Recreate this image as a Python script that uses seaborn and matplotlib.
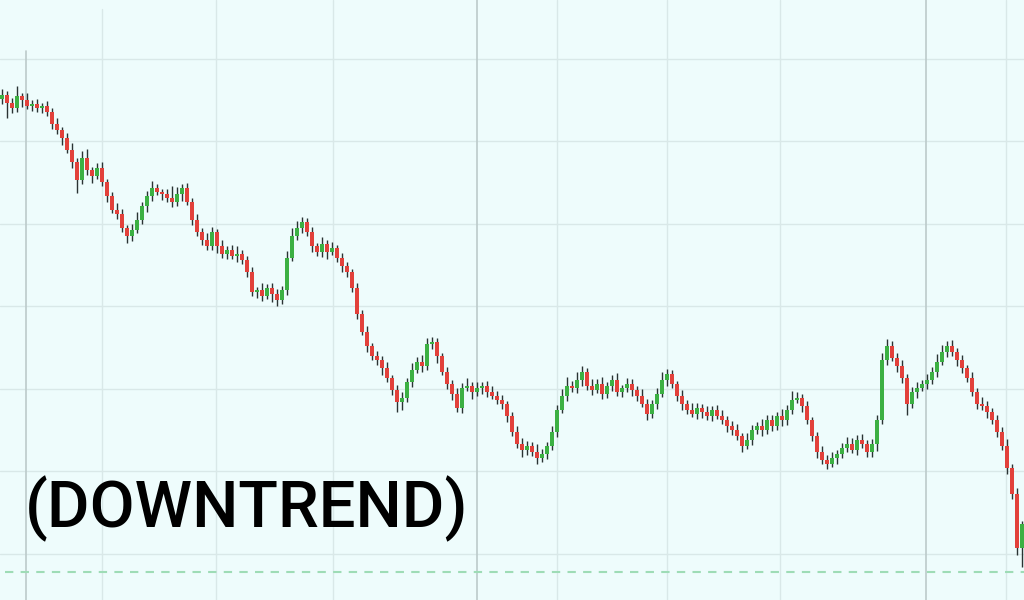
import matplotlib
matplotlib.use("Agg")
import numpy as np
import matplotlib.pyplot as plt
import seaborn as sns

# closing prices, one per session (open = previous close)
first_open = 155.2
closes = [
    155.6, 154.7, 154.1, 155.5, 155.0, 154.3, 154.5, 154.1, 154.3, 153.6,
    152.1, 151.4, 150.4, 149.0, 147.5, 145.3, 148.0, 146.5, 145.8, 146.8,
    145.1, 143.4, 141.7, 141.2, 139.5, 138.5, 139.3, 140.5, 142.2, 143.4,
    144.4, 143.9, 143.6, 143.2, 142.7, 143.6, 144.4, 142.7, 140.5, 139.0,
    138.1, 137.3, 139.0, 137.3, 136.4, 136.8, 136.1, 136.4, 135.6, 134.2,
    131.8, 132.0, 131.3, 132.2, 131.5, 130.8, 132.0, 135.9, 138.5, 139.5,
    140.2, 139.0, 137.3, 136.6, 137.6, 136.6, 137.1, 135.9, 134.9, 134.2,
    132.2, 129.1, 126.9, 125.2, 124.0, 123.5, 122.5, 121.3, 119.9, 118.4,
    118.9, 120.8, 122.3, 123.3, 122.8, 125.5, 125.7, 124.0, 122.1, 120.6,
    119.4, 117.7, 120.1, 120.4, 119.6, 120.1, 120.4, 119.6, 119.2, 118.7,
    118.2, 116.7, 114.8, 113.3, 112.6, 113.1, 112.4, 111.6, 112.1, 113.1,
    114.8, 117.5, 119.2, 120.4, 120.1, 121.1, 122.1, 120.4, 119.9, 120.6,
    119.4, 120.4, 121.1, 119.6, 120.1, 120.6, 119.9, 119.2, 118.2, 117.0,
    118.2, 119.4, 121.1, 121.8, 120.6, 119.2, 118.2, 117.5, 117.0, 117.7,
    117.2, 116.7, 117.5, 116.7, 116.2, 115.5, 115.0, 114.3, 113.1, 113.8,
    115.0, 115.5, 115.0, 116.2, 115.5, 116.7, 116.2, 117.5, 118.7, 118.9,
    117.9, 116.2, 114.3, 112.4, 111.4, 110.9, 111.6, 112.1, 112.9, 113.3,
    112.6, 113.8, 113.3, 112.4, 113.3, 116.2, 123.5, 125.2, 123.8, 122.8,
    121.3, 118.2, 119.6, 120.1, 120.6, 121.1, 122.1, 123.3, 124.5, 125.2,
    124.5, 123.5, 122.5, 121.3, 119.6, 118.2, 117.9, 117.2, 116.2, 114.8,
    113.1, 110.4, 107.3, 100.7, 103.6,
]
# wick extents above / below the body
upper_wick = [
    0.8, 0.5, 0.6, 1.2, 0.4, 0.9, 0.5, 0.7, 0.4, 0.6,
    0.5, 0.7, 0.4, 0.6, 0.8, 0.5, 0.9, 1.1, 0.4, 0.6,
    0.7, 0.4, 0.5, 0.8, 0.6, 0.4, 0.7, 0.9, 0.5, 0.6,
    0.8, 0.5, 0.4, 0.7, 1.4, 0.9, 0.5, 0.6, 0.4, 0.7,
    0.5, 0.8, 0.6, 0.4, 0.7, 0.5, 0.6, 0.9, 0.4, 0.5,
    0.6, 0.4, 0.8, 0.5, 0.7, 0.6, 0.5, 0.8, 1.0, 0.9,
    0.7, 0.5, 0.6, 0.4, 0.8, 0.5, 0.7, 0.4, 0.6, 0.5,
    0.4, 0.6, 0.5, 0.7, 0.4, 0.6, 0.5, 0.8, 0.4, 0.6,
    0.7, 0.5, 0.9, 0.6, 0.8, 0.7, 0.6, 0.5, 0.4, 0.6,
    0.5, 0.7, 0.6, 0.9, 0.5, 0.8, 0.4, 0.6, 0.7, 0.5,
    0.6, 0.4, 0.5, 0.7, 0.8, 0.6, 0.5, 0.9, 0.6, 0.5,
    0.7, 0.5, 0.8, 1.1, 0.6, 0.9, 0.7, 0.5, 0.8, 0.6,
    0.9, 0.5, 0.6, 0.8, 0.4, 0.7, 0.6, 0.5, 0.8, 0.6,
    0.5, 0.7, 0.9, 0.6, 0.5, 0.4, 0.7, 0.5, 0.8, 0.6,
    0.5, 0.7, 0.4, 0.6, 0.8, 0.5, 0.6, 0.7, 0.4, 0.9,
    0.6, 0.5, 0.8, 0.6, 0.7, 0.5, 0.9, 0.6, 1.0, 0.7,
    0.5, 0.6, 0.4, 0.5, 0.7, 0.6, 0.8, 0.5, 0.6, 0.9,
    0.7, 0.6, 0.8, 0.5, 0.6, 0.7, 0.9, 0.8, 0.6, 0.5,
    0.7, 0.5, 0.6, 0.8, 0.5, 0.7, 0.6, 0.9, 0.8, 0.6,
    0.7, 0.5, 0.6, 0.4, 0.7, 0.5, 0.8, 0.6, 0.5, 0.7,
    0.6, 0.8, 0.5, 0.7, 0.4,
]
lower_wick = [
    0.6, 1.8, 0.7, 0.5, 0.8, 0.4, 0.6, 0.5, 0.7, 0.5,
    0.6, 0.5, 0.8, 0.4, 0.7, 1.6, 0.5, 0.6, 0.8, 0.4,
    0.5, 0.7, 0.4, 0.6, 0.5, 0.8, 0.6, 0.4, 0.5, 0.7,
    0.6, 0.4, 0.7, 0.5, 0.6, 0.5, 0.8, 0.4, 0.6, 0.5,
    0.7, 0.5, 0.4, 0.8, 0.5, 0.6, 0.4, 0.7, 0.5, 0.6,
    0.5, 0.8, 0.6, 0.4, 0.9, 0.7, 0.5, 0.6, 0.4, 0.5,
    0.6, 0.4, 0.7, 0.5, 0.6, 0.8, 0.4, 0.5, 0.7, 0.6,
    0.5, 0.6, 0.4, 0.7, 0.5, 0.6, 0.8, 0.5, 0.6, 1.2,
    0.9, 0.5, 0.6, 0.4, 0.7, 0.5, 0.6, 0.8, 0.4, 0.6,
    0.7, 0.5, 0.6, 0.4, 0.8, 0.5, 0.7, 0.6, 0.4, 0.5,
    0.6, 0.7, 0.5, 0.4, 0.8, 0.6, 0.5, 0.7, 0.4, 0.6,
    0.5, 0.6, 0.4, 0.7, 0.5, 0.6, 0.8, 0.5, 0.6, 0.4,
    0.6, 0.5, 0.7, 0.4, 0.6, 0.5, 0.7, 0.6, 0.4, 0.8,
    0.5, 0.6, 0.4, 0.7, 0.5, 0.6, 0.8, 0.5, 0.4, 0.6,
    0.7, 0.5, 0.6, 0.4, 0.5, 0.7, 0.6, 0.5, 0.8, 0.4,
    0.6, 0.5, 0.7, 0.4, 0.6, 0.5, 0.7, 0.6, 0.5, 0.4,
    0.7, 0.5, 0.6, 0.8, 0.5, 0.6, 0.4, 0.7, 0.5, 0.6,
    0.4, 0.6, 0.5, 0.7, 0.6, 0.8, 0.5, 0.6, 0.4, 0.7,
    0.6, 1.4, 0.5, 0.7, 0.4, 0.6, 0.5, 0.7, 0.4, 0.6,
    0.5, 0.7, 0.6, 0.4, 0.5, 0.6, 0.4, 0.7, 0.5, 0.6,
    0.5, 0.7, 0.6, 0.8, 2.3,
]

price_grid = [100, 110, 120, 130, 140, 150, 160]
time_grid = [20.0, 42.8, 66.2, 111.0, 133.0, 155.6, 200.8]
session_breaks = [4.8, 95.0, 184.8]
support_level = 97.8
label = "(DOWNTREND)"

sns.set_style("white")
plt.rcParams['font.family'] = ['Roboto', 'DejaVu Sans']

opens = np.array([first_open] + closes[:-1])
closes = np.array(closes)
highs = np.maximum(opens, closes) + np.array(upper_wick)
lows = np.minimum(opens, closes) - np.array(lower_wick)
idx = np.arange(len(closes))
up = closes >= opens

fig = plt.figure(figsize=(10.24, 6), dpi=100)
ax = fig.add_axes([0, 0, 1, 1])
ax.set_facecolor('#eefcfc')
fig.patch.set_facecolor('#eefcfc')

for p in price_grid:
    ax.axhline(p, color='#d9e8e8', lw=1, zorder=0)
for t in time_grid:
    top = 0.985 if t == time_grid[0] else 1
    ax.axvline(t, ymax=top, color='#d9e8e8', lw=1, zorder=0)
for t in session_breaks:
    top = 0.915 if t == session_breaks[0] else 1
    ax.axvline(t, ymax=top, color='#bccaca', lw=1.2, zorder=0)

ax.axhline(support_level, xmin=0.005, color='#9edcb6', lw=1.5,
           linestyle=(0, (4, 3.5)), zorder=1)

# wicks then bodies
ax.vlines(idx, lows, highs, color='#2a3333', lw=1.0, zorder=2)
body_bottom = np.minimum(opens, closes)
body_height = np.maximum(np.abs(closes - opens), 0.15)
ax.bar(idx[up], body_height[up], bottom=body_bottom[up], width=0.7,
       color='#3cb043', linewidth=0, zorder=3)
ax.bar(idx[~up], body_height[~up], bottom=body_bottom[~up], width=0.7,
       color='#e2413b', linewidth=0, zorder=3)

ax.text(25 / 1024, 1 - 527 / 600, label, transform=ax.transAxes,
        fontsize=47, fontweight='medium', color='#000000',
        ha='left', va='baseline', zorder=5)

ax.set_xlim(-0.4, 204.4)
ax.set_ylim(94.42, 167.15)
ax.set_xticks([])
ax.set_yticks([])
for s in ax.spines.values():
    s.set_visible(False)

fig.savefig('out.png', dpi=100, facecolor=fig.get_facecolor())
